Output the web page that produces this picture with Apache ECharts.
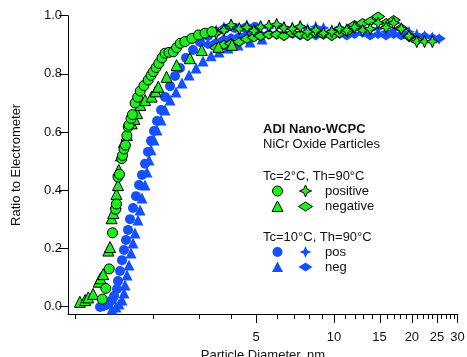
<!DOCTYPE html>
<html>
<head>
<meta charset="utf-8">
<script src="https://cdn.jsdelivr.net/npm/echarts@6/dist/echarts.min.js"></script>
<style>
  html, body { margin: 0; padding: 0; background: #fff; }
  #chart { width: 467px; height: 357px; }
</style>
</head>
<body>
<div id="chart"></div>
<script>
// [diameter nm, ratio to electrometer]
const greenCircles = [
  [1.27, 0.026], [1.31, 0.063], [1.35, 0.13], [1.39, 0.254], [1.43, 0.335], [1.44, 0.353],
  [1.46, 0.446], [1.48, 0.455], [1.51, 0.509], [1.52, 0.52], [1.54, 0.542], [1.56, 0.555],
  [1.58, 0.588], [1.60, 0.618], [1.61, 0.625], [1.64, 0.647], [1.66, 0.66], [1.70, 0.70],
  [1.74, 0.72], [1.78, 0.741], [1.84, 0.76], [1.91, 0.779], [1.96, 0.795], [2.00, 0.808],
  [2.05, 0.822], [2.10, 0.836], [2.16, 0.855], [2.22, 0.871], [2.30, 0.874], [2.39, 0.876],
  [2.46, 0.89], [2.54, 0.905], [2.65, 0.911], [2.82, 0.922], [2.99, 0.934], [3.17, 0.94],
  [3.37, 0.945]
];
const greenTriangles = [
  [1.04, 0.017], [1.09, 0.023], [1.12, 0.032], [1.17, 0.044], [1.23, 0.086], [1.25, 0.098],
  [1.28, 0.112], [1.34, 0.193], [1.36, 0.205], [1.38, 0.304], [1.40, 0.322], [1.43, 0.355],
  [1.44, 0.387], [1.46, 0.418], [1.47, 0.47], [1.50, 0.52], [1.54, 0.566], [1.58, 0.59],
  [1.65, 0.63], [1.69, 0.645], [1.73, 0.665], [1.78, 0.693], [1.86, 0.71], [1.97, 0.722],
  [2.04, 0.74], [2.09, 0.756], [2.25, 0.79], [2.46, 0.83], [2.77, 0.854], [3.08, 0.882],
  [3.57, 0.893], [4.03, 0.90]
];
const blueCircles = [
  [1.244, -0.001], [1.278, 0.002], [1.312, 0.006], [1.348, 0.013], [1.384, 0.023], [1.409, 0.037],
  [1.447, 0.061], [1.460, 0.088], [1.486, 0.123], [1.513, 0.16], [1.540, 0.195], [1.568, 0.229],
  [1.596, 0.264], [1.625, 0.301], [1.669, 0.339], [1.714, 0.38], [1.761, 0.418], [1.808, 0.453],
  [1.857, 0.491], [1.907, 0.532], [1.960, 0.57], [2.012, 0.604], [2.067, 0.638], [2.142, 0.676],
  [2.219, 0.721], [2.321, 0.758], [2.426, 0.793], [2.536, 0.82], [2.677, 0.855], [2.848, 0.882],
  [3.031, 0.91], [3.255, 0.93], [3.496, 0.944], [3.787, 0.955], [4.14, 0.958], [4.53, 0.958],
  [4.95, 0.961]
];
const blueTriangles = [
  [1.384, -0.008], [1.434, -0.001], [1.473, 0.009], [1.513, 0.023], [1.540, 0.047], [1.554, 0.075],
  [1.582, 0.109], [1.610, 0.143], [1.639, 0.185], [1.669, 0.219], [1.699, 0.253], [1.745, 0.298],
  [1.776, 0.332], [1.808, 0.374], [1.857, 0.418], [1.890, 0.463], [1.924, 0.504], [1.959, 0.539],
  [2.012, 0.573], [2.067, 0.607], [2.141, 0.642], [2.219, 0.676], [2.321, 0.71], [2.448, 0.738],
  [2.582, 0.769], [2.749, 0.796], [2.926, 0.82], [3.113, 0.844], [3.344, 0.862], [3.591, 0.875],
  [3.890, 0.889], [4.253, 0.899], [4.732, 0.91], [5.267, 0.92]
];

// larger sizes (second instrument), shared diameter channels
const largeD = [3.25, 3.5, 3.75, 4.0, 4.3, 4.6, 4.9, 5.2, 5.6, 6.0, 6.4, 6.9, 7.4, 7.9, 8.5, 9.1,
  9.8, 10.5, 11.2, 12.0, 12.9, 13.8, 14.8, 15.9, 17.0, 18.2, 19.5, 20.9, 22.4, 24.0, 25.5];
const greenPos = [null, 0.94, 0.95, 0.968, 0.955, 0.96, 0.948, 0.962, 0.965, 0.97, 0.958, 0.955, 0.962, 0.945, 0.95, 0.94,
  0.945, 0.955, 0.95, 0.96, 0.95, 0.955, 0.975, 0.96, 0.975, 0.955, 0.93, 0.911, 0.911, 0.911, null];
const greenNeg = [null, 0.89, 0.90, 0.905, 0.91, 0.92, 0.925, 0.93, 0.935, 0.935, 0.93, 0.94, 0.935, 0.93, 0.94, 0.935,
  0.93, 0.94, 0.945, 0.968, 0.975, 0.98, 0.997, 0.975, 0.985, 0.957, 0.928, 0.915, null, null, null];
const bluePos = [0.93, 0.95, 0.96, 0.965, 0.958, 0.968, 0.96, 0.965, 0.958, 0.968, 0.962, 0.96, 0.965, 0.955, 0.962, 0.958,
  0.95, 0.96, 0.955, 0.96, 0.958, 0.95, 0.955, 0.945, 0.95, 0.94, 0.945, 0.935, 0.93, 0.925, 0.92];
const blueNeg = [0.90, 0.91, 0.92, 0.925, 0.93, 0.935, 0.93, 0.935, 0.94, 0.935, 0.94, 0.935, 0.93, 0.935, 0.93, 0.935,
  0.94, 0.935, 0.93, 0.935, 0.94, 0.93, 0.935, 0.93, 0.935, 0.93, 0.935, 0.925, 0.93, 0.925, 0.922];

const majorTicks = [5, 10, 15, 20, 25, 30];
const minorTicks = [1, 2, 3, 4, 6, 7, 8, 9, 11, 12, 13, 14, 16, 17, 18, 19, 21, 22, 23, 24, 26, 27, 28, 29];
const yTicks = [0, 0.2, 0.4, 0.6, 0.8, 1.0];

const GREEN = '#1cef1c';
const BLUE = '#1450ff';
const FONT = 'Liberation Sans, Arial, sans-serif';
const STAR = 'path://M0,-10L3,-3L10,0L3,3L0,10L-3,3L-10,0L-3,-3Z';

// x axis is log10 of diameter
const toLog = pts => pts.map(p => [Math.log10(p[0]), p[1]]);
const fromChannels = vals => largeD.map((d, i) => vals[i] == null ? null : [Math.log10(d), vals[i]]).filter(Boolean);

const chart = echarts.init(document.getElementById('chart'), null, { renderer: 'canvas' });

const X_MIN = -0.029, X_MAX = 1.4795, Y_MIN = -0.025;

function mkSeries(name, data, symbol, size, color, border) {
  return {
    name, type: 'scatter', data, symbol, symbolSize: size,
    itemStyle: { color, borderColor: border ? '#000' : color, borderWidth: border ? 1 : 0, opacity: 1 },
    emphasis: { disabled: true },
    z: border ? 3 : 2
  };
}

// x ticks of two lengths, placed through the axis scale
const tickSeries = {
  type: 'custom',
  silent: true,
  clip: false,
  z: 1,
  data: majorTicks.map(t => [Math.log10(t), 9]).concat(minorTicks.map(t => [Math.log10(t), 5])),
  renderItem: (params, api) => {
    const p = api.coord([api.value(0), Y_MIN]);
    const x = Math.round(p[0]) + 0.5;
    return {
      type: 'line',
      shape: { x1: x, y1: p[1], x2: x, y2: p[1] + api.value(1) },
      style: { stroke: '#000', lineWidth: 1 }
    };
  }
};

// legend block drawn as graphic (two markers per row)
function poly(cx, cy, pts, color, border) {
  return {
    type: 'polygon', x: cx, y: cy, shape: { points: pts },
    style: { fill: color, stroke: border ? '#000' : null, lineWidth: 1 }, z: 10
  };
}
function txt(x, y, text, bold) {
  return {
    type: 'text', x, y,
    style: { text, fill: '#111', font: (bold ? 'bold ' : '') + '13px ' + FONT, textVerticalAlign: 'middle' },
    z: 10
  };
}
const triPts = [[0, -5.5], [5.5, 5], [-5.5, 5]];
const starPts = [[0, -6], [1.8, -1.8], [6, 0], [1.8, 1.8], [0, 6], [-1.8, 1.8], [-6, 0], [-1.8, -1.8]];
const diaPts = [[0, -4.5], [7, 0], [0, 4.5], [-7, 0]];
function circ(cx, cy, color, border) {
  return {
    type: 'circle', shape: { cx, cy, r: 5 },
    style: { fill: color, stroke: border ? '#000' : null, lineWidth: 1 }, z: 10
  };
}

const legendGraphic = [
  txt(263, 129, 'ADI Nano-WCPC', true),
  txt(263, 144.5, 'NiCr Oxide Particles'),
  txt(263, 176, 'Tc=2°C, Th=90°C'),
  circ(277.5, 191, GREEN, true), poly(305.5, 191, starPts, GREEN, true), txt(325, 191, 'positive'),
  poly(277.5, 206.5, triPts, GREEN, true), poly(305.5, 206.5, diaPts, GREEN, true), txt(325, 206.5, 'negative'),
  txt(263, 237, 'Tc=10°C, Th=90°C'),
  circ(277.5, 252, BLUE, false), poly(305.5, 252, starPts, BLUE, false), txt(325, 252, 'pos'),
  poly(277.5, 267, triPts, BLUE, false), poly(305.5, 267, diaPts, BLUE, false), txt(325, 267, 'neg')
];

chart.setOption({
  animation: false,
  backgroundColor: '#fff',
  textStyle: { fontFamily: FONT },
  grid: { left: 68, right: 9, top: 15.7, bottom: 43, outerBoundsMode: 'none' },
  xAxis: {
    type: 'value',
    min: X_MIN,
    max: X_MAX,
    splitLine: { show: false },
    name: 'Particle Diameter, nm',
    nameLocation: 'middle',
    nameGap: 32,
    nameTextStyle: { fontSize: 13, color: '#111', fontFamily: FONT },
    axisLine: { show: true, onZero: false, lineStyle: { color: '#000', width: 1 } },
    axisTick: { show: false },
    axisLabel: {
      customValues: majorTicks.map(Math.log10),
      formatter: v => String(Math.round(Math.pow(10, v))),
      fontSize: 13, color: '#111', margin: 17, fontFamily: FONT
    }
  },
  yAxis: {
    type: 'value',
    min: Y_MIN,
    max: 1.0,
    name: 'Ratio to Electrometer',
    nameLocation: 'middle',
    nameGap: 45,
    nameTextStyle: { fontSize: 13, color: '#111', fontFamily: FONT },
    splitLine: { show: false },
    axisLine: { show: true, onZero: false, lineStyle: { color: '#000', width: 1 } },
    axisTick: { show: true, length: 9, customValues: yTicks, lineStyle: { color: '#000' } },
    axisLabel: {
      customValues: yTicks,
      formatter: v => v.toFixed(1),
      fontSize: 13, color: '#111', margin: 6, fontFamily: FONT
    }
  },
  series: [
    tickSeries,
    mkSeries('blue neg', fromChannels(blueNeg), 'diamond', [13, 9], BLUE, false),
    mkSeries('blue pos', fromChannels(bluePos), STAR, 12, BLUE, false),
    mkSeries('blue triangles', toLog(blueTriangles), 'triangle', 11, BLUE, false),
    mkSeries('blue circles', toLog(blueCircles), 'circle', 10, BLUE, false),
    mkSeries('green neg', fromChannels(greenNeg), 'diamond', [13, 9], GREEN, true),
    mkSeries('green pos', fromChannels(greenPos), STAR, 12, GREEN, true),
    mkSeries('green triangles', toLog(greenTriangles), 'triangle', 11, GREEN, true),
    mkSeries('green circles', toLog(greenCircles), 'circle', 10, GREEN, true)
  ],
  graphic: legendGraphic
});
</script>
</body>
</html>
